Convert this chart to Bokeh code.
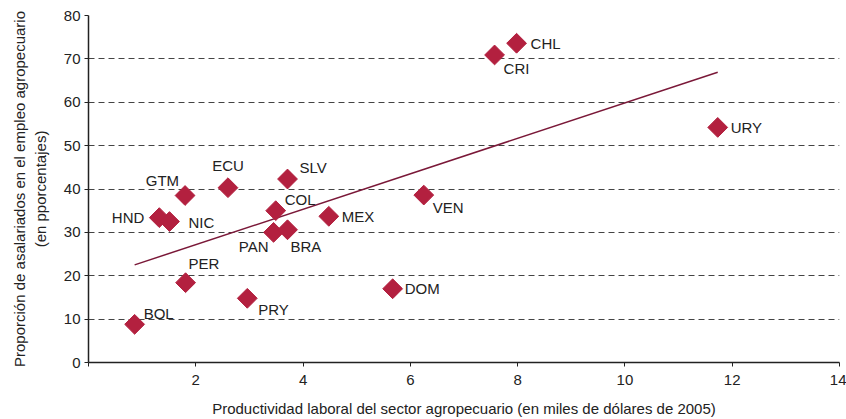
import numpy as np
from bokeh.plotting import figure
from bokeh.models import ColumnDataSource, FixedTicker, Range1d
from bokeh.core.properties import value
from bokeh.embed import file_html
from bokeh.resources import INLINE

countries = ["BOL", "PER", "HND", "NIC", "GTM", "ECU", "SLV", "COL", "PAN",
             "BRA", "PRY", "MEX", "DOM", "VEN", "CRI", "CHL", "URY"]
productivity = [0.86, 1.81, 1.32, 1.51, 1.80, 2.60, 3.71, 3.49, 3.45,
                3.71, 2.96, 4.48, 5.67, 6.25, 7.57, 7.98, 11.73]
wage_share = [8.8, 18.4, 33.4, 32.5, 38.5, 40.3, 42.3, 35.0, 30.0,
              30.6, 14.8, 33.7, 17.0, 38.6, 70.9, 73.6, 54.2]

# label placement (screen pixel offsets, + = right / down) and alignment
lab_dx = {"BOL": 9, "PER": 3, "HND": -15, "NIC": 19, "GTM": -6, "ECU": 0,
          "SLV": 12, "COL": 9, "PAN": -5, "BRA": 3, "PRY": 11, "MEX": 13,
          "DOM": 12, "VEN": 9, "CRI": 9, "CHL": 14, "URY": 13}
lab_dy = {"BOL": -11, "PER": -19, "HND": 0, "NIC": 1, "GTM": -15, "ECU": -22,
          "SLV": -12, "COL": -11, "PAN": 14, "BRA": 17, "PRY": 11, "MEX": 0,
          "DOM": 0, "VEN": 12, "CRI": 14, "CHL": 0, "URY": 0}
lab_align = {"HND": "right", "GTM": "right", "PAN": "right", "ECU": "center"}

FONT = "Liberation Sans"
DIAMOND = "#B3203F"
LINE = "#7A1838"
FS = "15px"

p = figure(width=846, height=419, output_backend="svg", toolbar_location=None,
           x_range=Range1d(0, 14), y_range=Range1d(0, 80),
           min_border_left=88, min_border_right=7, min_border_top=15,
           min_border_bottom=57)
p.outline_line_color = None
p.background_fill_color = "white"

# trend line (least squares)
xs = np.array(productivity)
ys = np.array(wage_share)
slope, intercept = np.polyfit(xs, ys, 1)
tx = np.array([xs.min(), xs.max()])
p.line(tx, slope * tx + intercept, line_color=LINE, line_width=1.5)

src = ColumnDataSource(dict(
    x=productivity, y=wage_share, name=countries,
    dx=[lab_dx[c] for c in countries],
    dy=[lab_dy[c] for c in countries],
    align=[lab_align.get(c, "left") for c in countries],
))
p.scatter("x", "y", source=src, marker="square", size=14, angle=np.pi / 4,
          fill_color=DIAMOND, line_color=DIAMOND)
p.text("x", "y", text="name", source=src, x_offset="dx", y_offset="dy",
       text_align="align", text_baseline="middle", text_font=value(FONT),
       text_font_size=FS, text_color="#222222")

# grid
p.xgrid.grid_line_color = None
p.ygrid.grid_line_color = "#444444"
p.ygrid.grid_line_dash = "6 4"
p.ygrid.grid_line_width = 1
p.ygrid.ticker = FixedTicker(ticks=list(range(10, 81, 10)))

# axes
p.xaxis.ticker = FixedTicker(ticks=list(range(0, 15, 2)))
p.xaxis.major_label_overrides = {0: ""}
p.yaxis.ticker = FixedTicker(ticks=list(range(0, 81, 10)))
for ax in (p.xaxis[0], p.yaxis[0]):
    ax.axis_line_color = "#222222"
    ax.axis_line_width = 1.5
    ax.major_tick_line_color = "#222222"
    ax.major_tick_out = 4
    ax.major_tick_in = 0
    ax.minor_tick_out = 0
    ax.minor_tick_in = 0
    ax.major_label_text_font = FONT
    ax.major_label_text_font_size = FS
    ax.major_label_text_color = "#222222"
    ax.axis_label_text_font = FONT
    ax.axis_label_text_font_size = FS
    ax.axis_label_text_font_style = "normal"
    ax.axis_label_text_color = "#222222"

p.xaxis.axis_label = "Productividad laboral del sector agropecuario (en miles de dólares de 2005)"
p.yaxis.axis_label = "Proporción de asalariados en el empleo agropecuario\n(en pporcentajes)"
p.xaxis.major_label_standoff = 8
p.xaxis.axis_label_standoff = 12
p.yaxis.major_label_standoff = 4
p.yaxis.axis_label_standoff = 12

open("out.html", "w").write(file_html(p, INLINE))
